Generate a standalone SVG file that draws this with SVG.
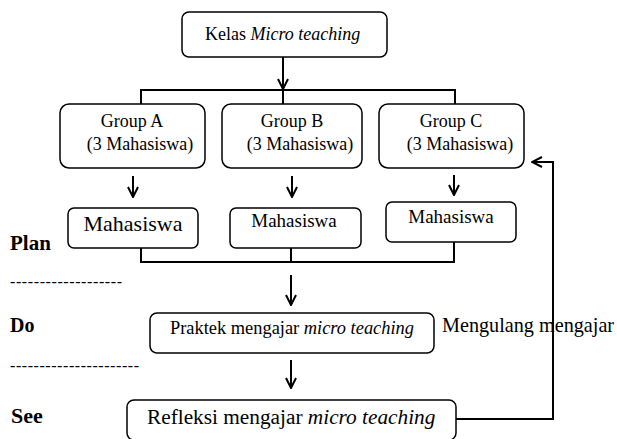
<svg xmlns="http://www.w3.org/2000/svg" width="617" height="439" viewBox="0 0 617 439">
<style>
.box{fill:#fff;stroke:#000;stroke-width:1.5}
.ln{fill:none;stroke:#000;stroke-width:2}
.t{font-family:"Liberation Serif","Times New Roman",serif;fill:#000}
.b{font-family:"Liberation Serif","Times New Roman",serif;font-weight:bold;fill:#000}
</style>
<defs>
<marker id="ah" viewBox="0 0 12 12" refX="11" refY="6" markerWidth="12" markerHeight="12" markerUnits="userSpaceOnUse" orient="auto">
<path d="M1,1 L11,6 L1,11" fill="none" stroke="#000" stroke-width="2"/>
</marker>
</defs>
<rect width="617" height="439" fill="#fff"/>
<g id="connectors">
<line class="ln" x1="283" y1="57" x2="283" y2="89" marker-end="url(#ah)"/>
<polyline class="ln" points="141,104 141,90 455,90 455,104"/>
<line class="ln" x1="283" y1="90" x2="283" y2="104"/>
<line class="ln" x1="133" y1="176" x2="133" y2="197" marker-end="url(#ah)"/>
<line class="ln" x1="292" y1="176" x2="292" y2="197" marker-end="url(#ah)"/>
<line class="ln" x1="454" y1="175" x2="454" y2="195" marker-end="url(#ah)"/>
<polyline class="ln" points="141,248 141,262 454,262 454,242"/>
<line class="ln" x1="291" y1="248" x2="291" y2="262"/>
<line class="ln" x1="291" y1="275" x2="291" y2="305" marker-end="url(#ah)"/>
<line class="ln" x1="291" y1="360" x2="291" y2="388" marker-end="url(#ah)"/>
<polyline class="ln" points="456,419 553,419 553,162 532,162" marker-end="url(#ah)"/>
</g>
<g id="kelas">
<rect class="box" x="182" y="12" width="205" height="45" rx="7"/>
<text class="t" x="205" y="40" font-size="18">Kelas <tspan font-style="italic">Micro teaching</tspan></text>
</g>
<g id="groupA">
<rect class="box" x="60" y="104" width="145" height="64" rx="9"/>
<text class="t" x="132" y="127" font-size="18" text-anchor="middle">Group A</text>
<text class="t" x="140" y="150" font-size="18" text-anchor="middle">(3 Mahasiswa)</text>
</g>
<g id="groupB">
<rect class="box" x="222" y="104" width="140" height="64" rx="9"/>
<text class="t" x="292" y="127" font-size="18" text-anchor="middle">Group B</text>
<text class="t" x="300" y="150" font-size="18" text-anchor="middle">(3 Mahasiswa)</text>
</g>
<g id="groupC">
<rect class="box" x="379" y="104" width="145" height="64" rx="9"/>
<text class="t" x="451" y="127" font-size="18" text-anchor="middle">Group C</text>
<text class="t" x="460" y="150" font-size="18" text-anchor="middle">(3 Mahasiswa)</text>
</g>
<g id="mhsA">
<rect class="box" x="68" y="208" width="130" height="40" rx="6"/>
<text class="t" x="133" y="231" font-size="22" text-anchor="middle">Mahasiswa</text>
</g>
<g id="mhsB">
<rect class="box" x="230" y="208" width="131" height="40" rx="6"/>
<text class="t" x="294" y="227" font-size="19" text-anchor="middle">Mahasiswa</text>
</g>
<g id="mhsC">
<rect class="box" x="386" y="202" width="130" height="40" rx="6"/>
<text class="t" x="451" y="223" font-size="19" text-anchor="middle">Mahasiswa</text>
</g>
<g id="praktek">
<rect class="box" x="150" y="313" width="284" height="40" rx="7"/>
<text class="t" x="170" y="334" font-size="18.4">Praktek mengajar <tspan font-style="italic">micro teaching</tspan></text>
</g>
<g id="refleksi">
<rect class="box" x="127" y="400" width="329" height="40" rx="7"/>
<text class="t" x="147" y="424" font-size="21.3">Refleksi mengajar <tspan font-style="italic">micro teaching</tspan></text>
</g>
<g id="labels">
<text class="t" x="442" y="332" font-size="20.2">Mengulang mengajar</text>
<text class="b" x="10" y="250" font-size="21">Plan</text>
<text class="t" x="10" y="287" font-size="16" textLength="112" lengthAdjust="spacing">-------------------</text>
<text class="b" x="10" y="332" font-size="20">Do</text>
<text class="t" x="10" y="371" font-size="16" textLength="129" lengthAdjust="spacing">----------------------</text>
<text class="b" x="11" y="423" font-size="22">See</text>
</g>
</svg>
